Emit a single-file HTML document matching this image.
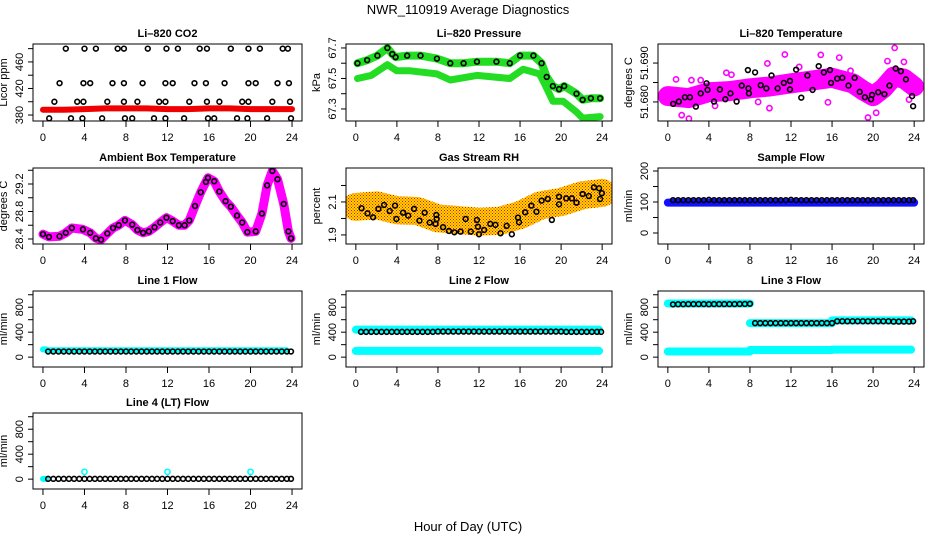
<!DOCTYPE html>
<html><head><meta charset="utf-8">
<style>
html,body{margin:0;padding:0;background:#fff;}
svg{display:block;font-family:"Liberation Sans",Arial,sans-serif;}
</style></head>
<body>
<svg id="chart" width="936" height="540" viewBox="0 0 936 540" xmlns="http://www.w3.org/2000/svg">
<defs>
<pattern id="rhpat" width="3" height="3" patternUnits="userSpaceOnUse">
<rect width="3" height="3" fill="#ffd800"/><rect x="0" y="0" width="1" height="1" fill="#e81010"/><rect x="1.5" y="1.5" width="1" height="1" fill="#e81010"/>
</pattern>
</defs>
<text x="468" y="14" font-size="13" text-anchor="middle">NWR_110919  Average Diagnostics</text>
<text x="468" y="531" font-size="13" text-anchor="middle">Hour of Day (UTC)</text>
</svg>
<script>
// ---------- data ----------
const xTicks = [0,4,8,12,16,20,24];
// CO2
const co2BandH = [0,2,4,6,8,10,12,14,16,18,20,22,24];
const co2BandV = [388,388,389,390,390,390,389,389,390,390,389,389,389];
const co2PtH = [2.2,4.0,5.1,7.2,7.8,10.1,11.9,13.0,15.1,15.8,18.1,19.8,20.9,23.1,23.6,
 1.6,3.9,4.55,6.7,7.8,9.6,11.8,12.5,14.6,15.7,17.5,19.8,20.5,22.6,23.7,
 1.1,3.3,3.9,6.2,7.8,9.1,11.2,11.8,14.1,15.8,17.0,19.2,19.8,22.1,23.8,
 0.6,2.7,3.8,5.7,7.9,8.6,10.7,11.8,13.6,15.9,16.5,18.7,19.7,21.6,23.9];
const co2PtV = [480,480,480,480,480,480,480,480,480,480,480,480,480,480,480,
 428,428,428,428,428,428,428,428,428,428,428,428,428,428,428,
 400,400,400,400,400,400,400,400,400,400,400,400,400,400,400,
 375,375,375,375,375,375,375,375,375,375,375,375,375,375,375];
// Pressure
const presUpH = [0.16,1.1,2.1,3.07,3.55,3.87,5.0,6.3,7.9,9.2,10.5,11.8,13.7,15.0,16.0,17.3,18.1,18.6,19.2,19.8,20.3,21.5,22.1,22.9,23.8];
const presUpV = [67.60,67.62,67.65,67.70,67.66,67.64,67.65,67.65,67.63,67.60,67.60,67.61,67.61,67.60,67.65,67.65,67.60,67.51,67.45,67.43,67.45,67.40,67.36,67.37,67.37];
const presLoH = [0.16,1.5,3.07,4.0,5.3,7.9,9.2,11.8,15.0,16.3,17.9,18.5,19.2,20.2,21.5,22.1,23.8];
const presLoV = [67.50,67.52,67.59,67.55,67.55,67.53,67.49,67.52,67.50,67.56,67.53,67.45,67.35,67.35,67.28,67.24,67.25];
// Li-820 temperature
const tempBandH = [0,2,4,6,8,10,12,14,16,18,19,20,21,22,23,24];
const tempBandV = [51.6815,51.681,51.6825,51.6828,51.6835,51.684,51.6848,51.6855,51.6862,51.6848,51.683,51.6815,51.6835,51.6865,51.686,51.684];
const tempOutH = [0.8,1.35,2.05,2.3,3.2,5.7,9.7,11.4,9.9,14.9,15.6,16.7,19.5,20.3,21.4,22.1,23.0,23.5,6.2,12.8,17.8,8.8,4.6];
const tempOutV = [51.6858,51.6766,51.6757,51.6856,51.6856,51.6875,51.6899,51.6922,51.6784,51.6921,51.6799,51.6914,51.6760,51.6772,51.6905,51.6939,51.6903,51.6806,51.6870,51.6890,51.6880,51.6800,51.6790];
const tempPtH = [0.52,1.07,1.66,2.15,2.73,3.2,3.77,3.87,4.5,5.07,5.6,6.1,6.7,7.2,7.8,7.85,7.9,8.5,9.05,9.6,10.1,10.7,11.3,11.9,11.9,12.5,13.0,13.6,14.1,14.7,15.2,15.8,15.9,16.5,17.0,17.6,18.2,18.7,19.2,19.8,19.9,20.5,21.1,21.6,22.2,22.7,23.2,23.8,23.9];
const tempPtV = [51.6795,51.6801,51.6812,51.6812,51.6788,51.6822,51.6848,51.6831,51.6801,51.6832,51.6807,51.6822,51.6801,51.6842,51.6882,51.6835,51.6822,51.6876,51.6843,51.6835,51.6868,51.6835,51.6849,51.6854,51.6832,51.6883,51.6811,51.6868,51.6831,51.6892,51.6876,51.6882,51.6849,51.6860,51.6862,51.6842,51.6862,51.6826,51.6812,51.6807,51.6818,51.6825,51.6820,51.6842,51.6886,51.6879,51.6858,51.6815,51.6789];
// Ambient box temperature
const ambH = [0,0.58,1.6,2.2,2.78,3.85,4.55,5.1,5.6,6.2,6.75,7.3,7.9,8.6,9.1,9.65,10.2,10.75,11.3,11.9,12.5,13.1,13.65,14.1,14.65,15.2,15.7,15.9,16.5,17.0,17.6,18.1,18.7,19.2,19.7,20.5,21.1,21.6,22.1,22.6,23.2,23.65,23.9];
const ambV = [28.47,28.43,28.44,28.49,28.56,28.54,28.49,28.41,28.39,28.48,28.56,28.60,28.67,28.61,28.53,28.49,28.51,28.57,28.64,28.71,28.66,28.60,28.60,28.67,28.88,29.08,29.23,29.29,29.24,29.09,28.95,28.87,28.74,28.64,28.50,28.51,28.77,29.18,29.39,29.27,28.91,28.51,28.41];
// Gas stream RH
const rhBandH = [0,2,4,6,8,10,12,14,16,18,20,22,24];
const rhBandV = [2.07,2.08,2.05,2.045,2.0,1.99,1.98,1.985,2.02,2.08,2.10,2.14,2.155];
const rhPtH = [0.55,1.13,1.68,2.2,2.75,3.3,3.82,3.95,4.6,5.1,5.67,6.2,6.7,7.2,7.77,7.84,7.87,8.5,9.07,9.6,10.2,10.7,11.2,11.8,11.9,12.0,12.5,13.1,13.6,14.1,14.7,15.2,15.8,15.9,16.5,17.1,17.6,18.1,18.7,19.1,19.8,19.8,20.5,21.05,21.5,22.1,22.7,23.2,23.7,23.8,23.97];
const rhPtV = [2.062,2.031,2.007,2.058,2.082,2.045,2.078,1.997,2.035,2.017,2.058,1.987,2.035,1.975,1.967,2.021,1.997,1.947,1.924,1.916,1.920,1.997,1.920,1.991,1.950,1.904,1.930,1.967,1.961,1.910,1.955,1.904,2.005,1.977,2.037,2.078,2.041,2.108,2.118,1.991,2.132,2.086,2.122,2.122,2.096,2.148,2.136,2.189,2.183,2.118,2.153];
// Flows (black circle hours shared)
const flowHours = [0.5,1,1.5,2,2.5,3,3.5,4,4.5,5,5.5,6,6.5,7,7.5,8,8.5,9,9.5,10,10.5,11,11.5,12,12.5,13,13.5,14,14.5,15,15.5,16,16.5,17,17.5,18,18.5,19,19.5,20,20.5,21,21.5,22,22.5,23,23.5,23.9];
const sampleVals = [106,106,106,106,106,106,106,107,106,106,106,106,106,106,106,106,106,106,106,106,106,106,106,107,106,106,106,106,106,106,106,106,106,106,106,106,106,106,106,106,106,106,106,106,106,106,106,106];
const line1Vals = [90,90,90,90,90,90,90,90,90,90,90,90,90,90,90,90,90,90,90,90,90,90,90,90,90,90,90,90,90,90,90,90,90,90,90,90,90,90,90,90,90,90,90,90,90,90,90,90];
const line2Vals = [405,405,405,405,405,405,405,405,405,405,405,405,405,405,405,410,410,410,410,410,410,410,410,410,410,410,410,410,410,410,410,410,410,410,410,410,410,410,410,410,405,405,405,405,405,405,405,405];
const line3Vals = [845,848,848,850,850,850,850,848,850,850,850,850,850,852,852,855,545,545,545,545,545,545,545,545,545,545,545,545,545,545,545,545,575,575,575,575,575,575,575,575,575,575,575,570,570,570,570,575];
const line4Vals = [5,5,5,5,5,5,5,5,5,5,5,5,5,5,5,5,5,5,5,5,5,5,5,5,5,5,5,5,5,5,5,5,5,5,5,5,5,5,5,5,5,5,5,5,5,5,5,5];
// flow bands: [startHour, endHour, value]
const sampleBand = [[0,24,98]];
const line1Band = [[0,0.3,125],[0.3,23.5,110]];
const line2Band = [[0,23.7,440],[0,23.7,100]];
const line3Band = [[0,8,860],[8,16,545],[16,23.7,590],[0,8,90],[8,16,115],[16,23.7,120]];
const line4Band = [[0,0.3,5]];
const line4OutH = [4,12,20];
const line4OutV = [117,117,117];

// ---------- helpers ----------
const svg = document.getElementById('chart');
const NS = 'http://www.w3.org/2000/svg';
function mk(tag, attrs, parent){
  const e = document.createElementNS(NS, tag);
  for (const k in attrs) e.setAttribute(k, attrs[k]);
  (parent||svg).appendChild(e);
  return e;
}
const cols = [[33,302],[346,612],[658,924]];
const rows = [[44,121],[168,244],[291,367],[413,489]];

function makePanel(c, r, ylim, yticks, ylabels, title, ylab, key){
  const [x0,x1] = cols[c], [y0,y1] = rows[r];
  const g = mk('g', {});
  
  
  const xs = h => x0 + (h + 0.96) / 25.92 * (x1 - x0);
  const ys = v => y1 - (v - ylim[0]) / (ylim[1] - ylim[0]) * (y1 - y0);
  const clipId = 'clip-' + key;
  const cp = mk('clipPath', {id: clipId}, g);
  mk('rect', {x:x0, y:y0, width:x1-x0, height:y1-y0}, cp);
  const plot = mk('g', {'clip-path':'url(#'+clipId+')'}, g);
  
  
  const box = mk('rect', {x:x0, y:y0, width:x1-x0, height:y1-y0, fill:'none', stroke:'#000', 'stroke-width':1}, g);
  
  
  const t = mk('text', {x:(x0+x1)/2, y:y0-7, 'font-size':11, 'font-weight':'bold', 'text-anchor':'middle'}, g);
  t.textContent = title;
  
  
  const xa = mk('g', {}, g);
  
  
  xTicks.forEach(h => {
    mk('line', {x1:xs(h), x2:xs(h), y1:y1, y2:y1+6, stroke:'#000'}, xa);
    const l = mk('text', {x:xs(h), y:y1+20, 'font-size':11, 'text-anchor':'middle'}, xa);
    l.textContent = String(h);
    
    
  });
  const ya = mk('g', {}, g);
  
  
  yticks.forEach(v => {
    mk('line', {x1:x0-5, x2:x0, y1:ys(v), y2:ys(v), stroke:'#000'}, ya);
  });
  ylabels.forEach(v => {
    const yy = ys(parseFloat(v));
    const l = mk('text', {x:x0-10, y:yy, 'font-size':11, 'text-anchor':'middle', transform:'rotate(-90 '+(x0-10)+' '+yy+')'}, ya);
    l.textContent = v;
    
    
  });
  const yl = mk('text', {x:x0-26, y:(y0+y1)/2, 'font-size':11, 'text-anchor':'middle', transform:'rotate(-90 '+(x0-26)+' '+((y0+y1)/2)+')'}, g);
  yl.textContent = ylab;
  
  
  return {xs, ys, plot};
}
function band(p, H, V, color, w, name){
  const pts = H.map((h,i)=>p.xs(h).toFixed(1)+','+p.ys(V[i]).toFixed(1)).join(' ');
  const e = mk('polyline', {points:pts, fill:'none', stroke:color, 'stroke-width':w, 'stroke-linejoin':'round', 'stroke-linecap':'round'}, p.plot);
  
  
}
function segBands(p, segs, color, w, name){
  segs.forEach(s => {
    const e = mk('line', {x1:p.xs(s[0]), x2:p.xs(s[1]), y1:p.ys(s[2]), y2:p.ys(s[2]), stroke:color, 'stroke-width':w, 'stroke-linecap':'round'}, p.plot);
    
    
  });
}
function pts(p, H, V, color, r, sw, name){
  H.forEach((h,i) => {
    const e = mk('circle', {cx:p.xs(h), cy:p.ys(V[i]), r:r, fill:'none', stroke:color, 'stroke-width':sw}, p.plot);
    
    
  });
}

// ---------- panels ----------
let p;
p = makePanel(0,0,[371,487],[380,400,420,440,460,480],['380','420','460'],'Li\u2013820 CO2','Licor ppm','co2');
band(p, co2BandH, co2BandV, '#f00000', 6, 'co2-band');
pts(p, co2PtH, co2PtV, '#000', 2.4, 1.6, 'co2-point');

p = makePanel(1,0,[67.221,67.726],[67.3,67.4,67.5,67.6,67.7],['67.3','67.5','67.7'],'Li\u2013820 Pressure','kPa','pressure');
band(p, presLoH, presLoV, '#22dd22', 7, 'pressure-lower-band');
band(p, presUpH, presUpV, '#22dd22', 8, 'pressure-upper-band');
pts(p, presUpH, presUpV, '#000', 2.4, 1.6, 'pressure-point');

p = makePanel(2,0,[51.6751,51.6949],[51.680,51.685,51.690],['51.680','51.690'],'Li\u2013820 Temperature','degrees C','li-temp');
band(p, tempBandH, tempBandV, '#ff00ff', 20, 'li-temp-band');
pts(p, tempOutH, tempOutV, '#ff00ff', 2.6, 1.6, 'li-temp-outlier');
pts(p, tempPtH, tempPtV, '#000', 2.4, 1.6, 'li-temp-point');

p = makePanel(0,1,[28.327,29.433],[28.4,28.6,28.8,29.0,29.2,29.4],['28.4','28.8','29.2'],'Ambient Box Temperature','degrees C','ambient');
band(p, ambH, ambV, '#ff00ff', 9, 'ambient-band');
pts(p, ambH, ambV, '#000', 2.4, 1.6, 'ambient-point');

p = makePanel(1,1,[1.845,2.306],[1.9,2.0,2.1,2.2],['1.9','2.1'],'Gas Stream RH','percent','rh');
band(p, rhBandH, rhBandV, 'url(#rhpat)', 28, 'rh-band');
pts(p, rhPtH, rhPtV, '#000', 2.4, 1.6, 'rh-point');

p = makePanel(2,1,[-35.5,209.7],[0,50,100,150,200],['0','100','200'],'Sample Flow','ml/min','sample-flow');
segBands(p, sampleBand, '#1010ff', 8, 'sample-flow-band');
pts(p, flowHours, sampleVals, '#000', 2.4, 1.6, 'sample-flow-point');

const fT = [0,200,400,600,800,1000], fL = ['0','400','800'], fY = [-158,1060];
p = makePanel(0,2,fY,fT,fL,'Line 1 Flow','ml/min','line1-flow');
segBands(p, line1Band, '#00ffff', 6, 'line1-flow-band');
pts(p, flowHours, line1Vals, '#000', 2.4, 1.6, 'line1-flow-point');

p = makePanel(1,2,fY,fT,fL,'Line 2 Flow','ml/min','line2-flow');
segBands(p, line2Band, '#00ffff', 8, 'line2-flow-band');
pts(p, flowHours, line2Vals, '#000', 2.4, 1.6, 'line2-flow-point');

p = makePanel(2,2,fY,fT,fL,'Line 3 Flow','ml/min','line3-flow');
segBands(p, line3Band, '#00ffff', 8, 'line3-flow-band');
pts(p, flowHours, line3Vals, '#000', 2.4, 1.6, 'line3-flow-point');

p = makePanel(0,3,fY,fT,fL,'Line 4 (LT) Flow','ml/min','line4-flow');
segBands(p, line4Band, '#00ffff', 6, 'line4-flow-band');
pts(p, line4OutH, line4OutV, '#00ffff', 2.6, 1.6, 'line4-flow-outlier');
pts(p, flowHours, line4Vals, '#000', 2.4, 1.6, 'line4-flow-point');
</script>
</body></html>
